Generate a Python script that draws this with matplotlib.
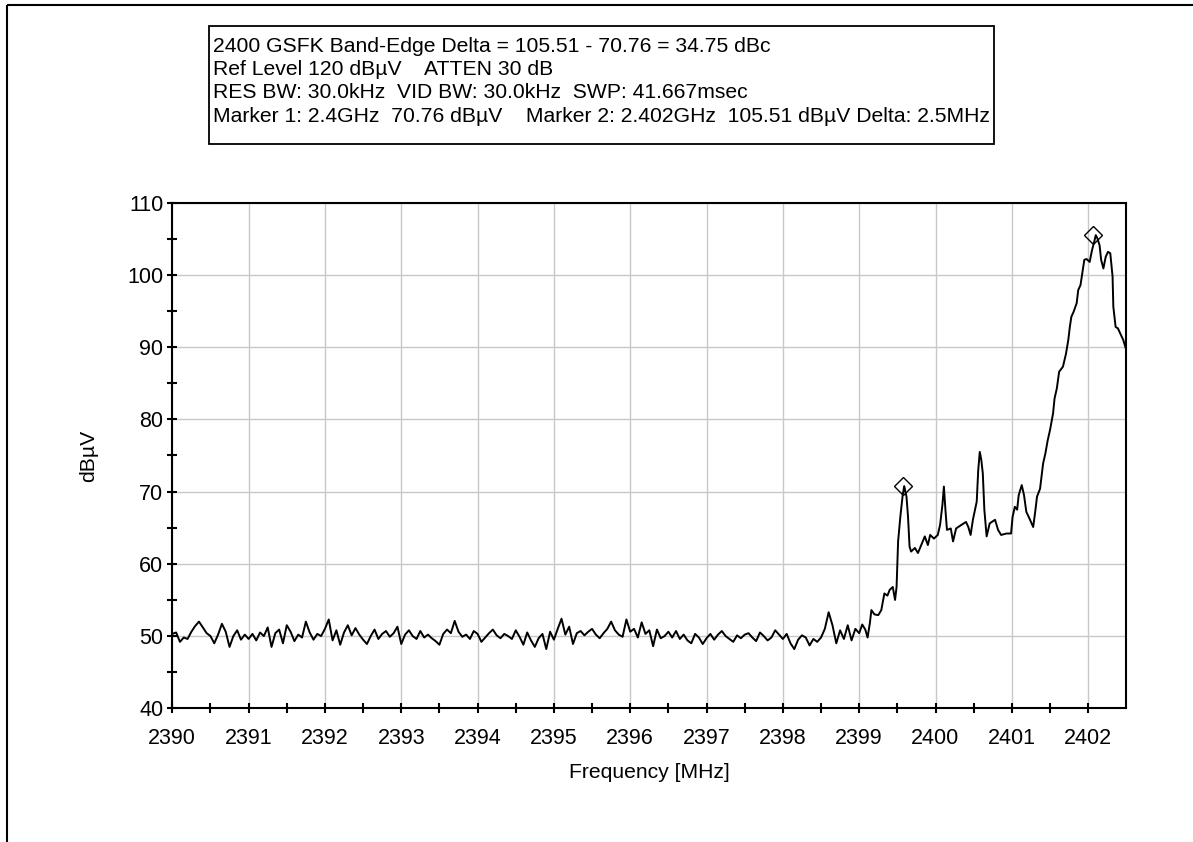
import numpy as np
import matplotlib
matplotlib.use("Agg")
import matplotlib.pyplot as plt
from matplotlib.lines import Line2D
from matplotlib.patches import Rectangle

# ---- sweep data -------------------------------------------------------
# noise floor, uniform sweep from 2390.00 MHz in 0.05 MHz steps
noise_start_mhz = 2390.0
noise_step_mhz = 0.05
noise_dbuv = [
    50.3, 50.5, 49.2, 49.8, 49.6, 50.6, 51.4, 52.0, 51.2, 50.4,
    50.0, 49.0, 50.2, 51.7, 50.6, 48.5, 50.0, 50.8, 49.5, 50.2,
    49.6, 50.3, 49.4, 50.5, 50.0, 51.2, 48.5, 50.4, 50.9, 49.0,
    51.5, 50.6, 49.3, 50.2, 49.8, 52.0, 50.5, 49.5, 50.3, 50.0,
    51.0, 52.3, 49.4, 50.8, 48.8, 50.5, 51.5, 50.1, 51.1, 50.2,
    49.5, 48.9, 50.0, 50.9, 49.6, 50.3, 50.7, 49.9, 50.4, 51.3,
    48.9, 50.2, 50.8, 50.0, 49.6, 50.7, 49.8, 50.2, 49.7, 49.3,
    48.8, 50.3, 50.9, 50.4, 52.1, 50.6, 49.9, 50.2, 49.6, 50.7,
    50.3, 49.2, 49.8, 50.4, 50.9, 50.1, 49.7, 50.3, 50.0, 49.6,
    50.8, 49.9, 48.8, 50.5, 49.4, 48.5, 49.7, 50.3, 48.2, 50.6,
    49.5, 51.0, 52.4, 50.2, 51.3, 48.9, 50.4, 50.7, 50.1, 50.6,
    51.0, 50.2, 49.7, 50.4, 51.0, 52.0, 50.8, 50.2, 49.9, 52.3,
    50.6, 51.0, 49.8, 51.9, 50.3, 50.8, 48.6, 50.9, 49.7, 50.0,
    50.6, 49.8, 50.7, 49.6, 50.2, 49.4, 49.0, 50.3, 49.8, 48.9,
    49.7, 50.3, 49.5, 50.2, 50.7, 50.0, 49.6, 49.2, 50.1, 49.7,
    50.2, 50.4, 49.8, 49.3, 50.5, 50.0, 49.4, 49.8, 50.8, 50.2,
    49.6, 50.3, 49.0, 48.2, 49.5, 50.1, 49.8, 48.7, 49.6, 49.2,
    49.8, 51.0, 53.3, 51.5, 49.0, 50.8, 49.6, 51.5, 49.4, 51.0,
]

# band-edge region, read point by point
edge_mhz = [
    2399.00, 2399.04, 2399.08, 2399.11, 2399.14, 2399.16, 2399.20, 2399.25,
    2399.29, 2399.33, 2399.37, 2399.40, 2399.44, 2399.47, 2399.49, 2399.50,
    2399.51, 2399.54, 2399.57, 2399.59, 2399.62, 2399.64, 2399.66, 2399.68,
    2399.73, 2399.77, 2399.82, 2399.86, 2399.90, 2399.93, 2399.98, 2400.03,
    2400.06, 2400.09, 2400.11, 2400.13, 2400.15, 2400.20, 2400.23, 2400.27,
    2400.34, 2400.40, 2400.43, 2400.46, 2400.49, 2400.54, 2400.56, 2400.58,
    2400.60, 2400.62, 2400.64, 2400.67, 2400.71, 2400.78, 2400.82, 2400.86,
    2400.93, 2400.99, 2401.01, 2401.04, 2401.07, 2401.09, 2401.13, 2401.16,
    2401.19, 2401.23, 2401.28, 2401.31, 2401.33, 2401.37, 2401.41, 2401.44,
    2401.47, 2401.50, 2401.54, 2401.56, 2401.59, 2401.62, 2401.67, 2401.71,
    2401.74, 2401.76, 2401.78, 2401.81, 2401.85, 2401.87, 2401.90, 2401.92,
    2401.95, 2401.98, 2402.02, 2402.05, 2402.08, 2402.10, 2402.12, 2402.15,
    2402.17, 2402.20, 2402.23, 2402.26, 2402.29, 2402.32, 2402.33, 2402.36,
    2402.39, 2402.42, 2402.46, 2402.50,
]
edge_dbuv = [
    50.4, 51.6, 50.9, 49.8, 51.8, 53.6, 53.0, 52.9,
    53.6, 55.9, 55.6, 56.4, 56.8, 55.0, 56.8, 59.8,
    63.1, 66.6, 69.5, 70.76, 69.3, 66.5, 62.4, 61.7,
    62.2, 61.5, 62.8, 63.8, 62.6, 64.0, 63.5, 64.0,
    65.4, 68.1, 70.7, 67.5, 64.7, 64.9, 63.1, 64.9,
    65.4, 65.8, 65.1, 64.0, 66.1, 68.6, 73.0, 75.5,
    74.4, 72.5, 67.5, 63.8, 65.6, 66.1, 64.7, 64.0,
    64.2, 64.2, 66.5, 67.9, 67.5, 69.5, 70.9, 69.5,
    67.2, 66.3, 65.1, 67.5, 69.3, 70.4, 73.9, 75.3,
    77.1, 78.5, 80.8, 82.9, 84.3, 86.6, 87.3, 89.1,
    91.0, 92.8, 94.2, 94.9, 96.1, 97.9, 98.6, 100.0,
    102.1, 102.2, 101.8, 103.4, 104.6, 105.51, 105.1, 104.1,
    102.1, 100.9, 102.5, 103.2, 103.0, 99.8, 95.6, 92.8,
    92.6, 91.9, 91.0, 89.6,
]

# markers
marker_mhz = [2399.57, 2402.06]
marker_dbuv = [70.76, 105.51]

# axes
x_limits = (2390.0, 2402.5)
y_limits = (40, 110)
x_major = [2390, 2391, 2392, 2393, 2394, 2395, 2396, 2397, 2398, 2399,
           2400, 2401, 2402]
y_major = [40, 50, 60, 70, 80, 90, 100, 110]

header_lines = [
    "2400 GSFK Band-Edge Delta = 105.51 - 70.76 = 34.75 dBc",
    "Ref Level 120 dB\u00b5V    ATTEN 30 dB",
    "RES BW: 30.0kHz  VID BW: 30.0kHz  SWP: 41.667msec",
    "Marker 1: 2.4GHz  70.76 dB\u00b5V    Marker 2: 2.402GHz  105.51 dB\u00b5V Delta: 2.5MHz",
]
x_title = "Frequency [MHz]"
y_title = "dB\u00b5V"

plt.rcParams["font.family"] = ["Liberation Sans", "DejaVu Sans"]

W, H = 1193, 842
fig = plt.figure(figsize=(W / 100, H / 100), dpi=100)
fig.patch.set_facecolor("white")


def fx(px):
    return px / W


def fy(py):
    return 1 - py / H


# outer frame (left and top edges)
fig.add_artist(Line2D([fx(7.5), fx(7.5)], [fy(5), 0], color="black", lw=1.5,
                      transform=fig.transFigure, solid_capstyle="butt"))
fig.add_artist(Line2D([fx(7.5), 1], [fy(5), fy(5)], color="black", lw=1.5,
                      transform=fig.transFigure, solid_capstyle="butt"))

# header box
fig.add_artist(Rectangle((fx(209), fy(144)), fx(994) - fx(209), fy(26) - fy(144),
                         transform=fig.transFigure, fill=False,
                         edgecolor="black", lw=1.3))
baselines = [51.7, 75.0, 98.3, 121.7]
for line, b in zip(header_lines, baselines):
    fig.text(fx(213), fy(b), line, ha="left", va="baseline", fontsize=15.2,
             color="black")

# plot area
ax = fig.add_axes([fx(172.3), fy(708.3), fx(1126.3) - fx(172.3),
                   fy(202.7) - fy(708.3)])

freq = np.concatenate([noise_start_mhz + noise_step_mhz * np.arange(len(noise_dbuv)),
                       np.array(edge_mhz)])
level = np.concatenate([np.array(noise_dbuv), np.array(edge_dbuv)])

ax.plot(freq, level, color="black", lw=1.4, zorder=3, clip_on=True)
ax.plot(marker_mhz, marker_dbuv, linestyle="none", marker="D", markersize=9.5,
        markerfacecolor="none", markeredgecolor="black", markeredgewidth=1.0,
        zorder=4, clip_on=False)

ax.set_xlim(*x_limits)
ax.set_ylim(*y_limits)
ax.set_xticks(x_major)
ax.set_yticks(y_major)
ax.set_xticks(np.array(x_major[:-1]) + 0.5, minor=True)
ax.set_yticks(np.array(y_major[:-1]) + 5, minor=True)
ax.grid(True, which="major", color="#c8c8c8", lw=1.0, zorder=0)

for s in ax.spines.values():
    s.set_linewidth(1.5)
    s.set_color("black")

ax.tick_params(which="both", direction="inout", length=7, width=1.5,
               color="black", top=False, right=False)
ax.tick_params(axis="x", which="major", pad=11)
ax.tick_params(axis="y", which="major", pad=3)
for lab in ax.get_xticklabels() + ax.get_yticklabels():
    lab.set_fontsize(15.5)

fig.text(fx(649.3), fy(773), x_title, ha="center", va="center", fontsize=15.2)
fig.text(fx(89), fy(456), y_title, ha="center", va="center", rotation=90,
         fontsize=15.2)

fig.savefig("out.png", dpi=100, facecolor="white")
